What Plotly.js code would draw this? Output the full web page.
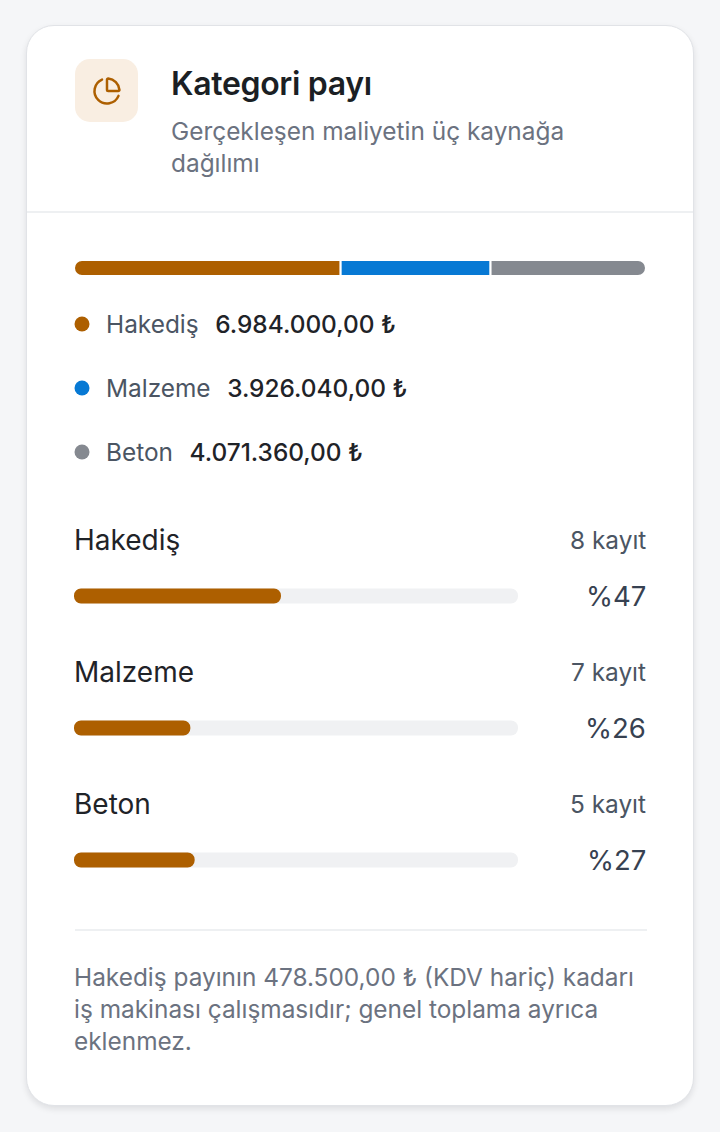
<!DOCTYPE html>
<html lang="tr">
<head>
<meta charset="utf-8">
<script src="https://cdn.plot.ly/plotly-3.0.1.min.js"></script>
<style>
  html, body { margin: 0; padding: 0; }
  body {
    width: 720px; height: 1132px; background: #f5f6f8;
    font-family: Inter, "Noto Sans", sans-serif; position: relative; overflow: hidden;
  }
  .card {
    position: absolute; left: 26px; top: 25px; width: 666px; height: 1079px;
    background: #fff; border: 1px solid #e1e3e7; border-radius: 28px;
    box-shadow: 0 3px 6px rgba(20, 24, 32, 0.10);
  }
  .icon {
    position: absolute; left: 48px; top: 33px; width: 63px; height: 63px;
    background: #f9eee2; border-radius: 15px;
    display: flex; align-items: center; justify-content: center;
  }
  .title {
    position: absolute; left: 144px; top: 38px; margin: 0;
    font-size: 32px; font-weight: 600; color: #1b1f24; line-height: 40px;
    letter-spacing: -0.01em;
  }
  .subtitle {
    position: absolute; left: 144px; top: 89px; width: 490px; margin: 0;
    font-size: 24.4px; color: #6b7280; line-height: 32px;
  }
  .divider { position: absolute; left: 0; right: 0; top: 185px; height: 2px; background: #eef0f2; }
  .footer-line { position: absolute; left: 48px; width: 572px; top: 903px; height: 2px; background: #eef0f2; }
  .note {
    position: absolute; left: 47px; top: 935px; width: 600px; margin: 0;
    font-size: 24.4px; color: #6b7280; line-height: 32px; white-space: nowrap;
  }
  #plot { position: absolute; left: 0; top: 220px; width: 720px; height: 690px; }
</style>
</head>
<body>
<div class="card">
  <div class="icon">
    <svg width="30" height="30" viewBox="0 0 24 24" fill="none" stroke="#ad5f00" stroke-width="2"
         stroke-linecap="round" stroke-linejoin="round">
      <path d="M21 12c.552 0 1.005-.449.95-.998a10 10 0 0 0-8.953-8.951c-.55-.055-.998.398-.998.95v8a1 1 0 0 0 1 1z"/>
      <path d="M21.21 15.89A10 10 0 1 1 8 2.83"/>
    </svg>
  </div>
  <h2 class="title">Kategori payı</h2>
  <p class="subtitle">Gerçekleşen maliyetin üç kaynağa<br>dağılımı</p>
  <div class="divider"></div>
  <div class="footer-line"></div>
  <p class="note">Hakediş payının 478.500,00 ₺ (KDV hariç) kadarı<br>iş makinası çalışmasıdır; genel toplama ayrıca<br>eklenmez.</p>
</div>
<div id="plot"></div>
<script>
// kategori verileri
const categories = ['Hakediş', 'Malzeme', 'Beton'];
const amounts = [6984000.00, 3926040.00, 4071360.00];
const recordCounts = [8, 7, 5];
const colors = ['#ad5f00', '#0779d4', '#858990'];

const total = amounts.reduce((a, b) => a + b, 0);
const shares = amounts.map(v => v / total * 100);

const fmtTL = v => v.toLocaleString('tr-TR', {minimumFractionDigits: 2, maximumFractionDigits: 2}) + ' ₺';

const W = 720;
const px = v => v / W;  // sayfa x -> paper
const FONT = 'Inter, "Noto Sans", sans-serif';

// satir konumlari (sayfa pikseli)
const stackY = 268;
const legendY = [324, 388, 452];
const rowLabelY = [540, 672, 804];
const rowBarY = [596, 728, 860];

const traces = [];

// ust yigin cubugu (relative): ilk parca sifirdan sola, digerleri saga yigilir,
// boylece sadece iki dis uc yuvarlatilir
amounts.forEach((v, i) => {
    traces.push({
        type: 'bar', orientation: 'h', xaxis: 'x', yaxis: 'y',
        y: [stackY],
        x: [i === 0 ? -v : v],
        width: 16,
        marker: {color: colors[i], cornerradius: 8, line: {color: '#ffffff', width: 2}},
        hoverinfo: 'skip', showlegend: false
    });
});

// kategori cubuklari: base verilince overlay cizilir, iki uc da yuvarlak
const pill = (vals, color) => ({
    type: 'bar', orientation: 'h', xaxis: 'x2', yaxis: 'y',
    y: rowBarY,
    x: vals,
    base: vals.map(() => 0),
    width: 15,
    marker: {color: color, cornerradius: 7, line: {width: 0}},
    hoverinfo: 'skip', showlegend: false
});
traces.push(pill(categories.map(() => 100), '#f0f1f3'));
traces.push(pill(shares, colors[0]));

// lejant noktalari
traces.push({
    type: 'scatter', mode: 'markers', xaxis: 'x3', yaxis: 'y',
    x: categories.map(() => 82), y: legendY,
    marker: {size: 15, color: colors, line: {width: 0}},
    hoverinfo: 'skip', showlegend: false
});

const annotations = [];
categories.forEach((c, i) => {
    annotations.push({
        xref: 'paper', yref: 'y', x: px(104), y: legendY[i], xanchor: 'left', yanchor: 'middle',
        showarrow: false,
        text: c + '\u2002\u2009<span style="color:#1f2328;font-weight:500">' + fmtTL(amounts[i]) + '</span>',
        font: {family: FONT, size: 24.4, color: '#4b5563'}
    });
    annotations.push({
        xref: 'paper', yref: 'y', x: px(72), y: rowLabelY[i], xanchor: 'left', yanchor: 'middle',
        showarrow: false, text: c,
        font: {family: FONT, size: 28, color: '#1f2328'}
    });
    annotations.push({
        xref: 'paper', yref: 'y', x: px(648), y: rowLabelY[i], xanchor: 'right', yanchor: 'middle',
        showarrow: false, text: recordCounts[i] + ' kayıt',
        font: {family: FONT, size: 24.4, color: '#4b5563'}
    });
    annotations.push({
        xref: 'paper', yref: 'y', x: px(648), y: rowBarY[i], xanchor: 'right', yanchor: 'middle',
        showarrow: false, text: '%' + Math.round(shares[i]),
        font: {family: FONT, size: 27.5, color: '#374151'}
    });
});

const hidden = {visible: false, fixedrange: true, showgrid: false, zeroline: false};
const layout = {
    width: 720, height: 690,
    margin: {l: 0, r: 0, t: 0, b: 0},
    paper_bgcolor: 'rgba(0,0,0,0)', plot_bgcolor: 'rgba(0,0,0,0)',
    barmode: 'relative',
    xaxis: Object.assign({}, hidden, {domain: [px(74), px(646)], range: [-amounts[0], total - amounts[0]]}),
    xaxis2: Object.assign({}, hidden, {domain: [px(74), px(518)], range: [0, 100]}),
    xaxis3: Object.assign({}, hidden, {domain: [0, 1], range: [0, W]}),
    yaxis: Object.assign({}, hidden, {range: [910, 220]}),
    annotations: annotations,
    showlegend: false
};

Plotly.newPlot('plot', traces, layout, {displayModeBar: false, staticPlot: true});
</script>
</body>
</html>
